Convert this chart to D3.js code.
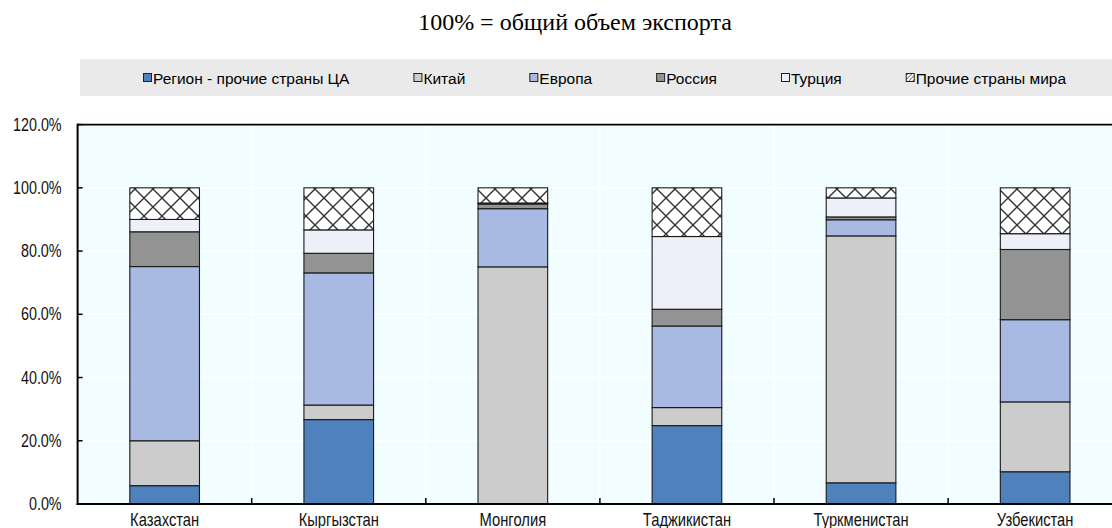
<!DOCTYPE html>
<html>
<head>
<meta charset="utf-8">
<script src="https://cdn.jsdelivr.net/npm/d3@7"></script>
<style>
  html, body { margin: 0; padding: 0; background: #ffffff; }
  svg { display: block; }
</style>
</head>
<body>
<svg id="chart" width="1112" height="528"></svg>
<script>
// ---- data ----
const title = "100% = общий объем экспорта";
const categories = ["Казахстан", "Кыргызстан", "Монголия", "Таджикистан", "Туркменистан", "Узбекистан"];
const seriesNames = ["Регион - прочие страны ЦА", "Китай", "Европа", "Россия", "Турция", "Прочие страны мира"];
const regionCA = [5.8, 26.7, 0.0, 24.8, 6.7, 10.2];
const china    = [14.2, 4.6, 75.0, 5.7, 78.1, 22.1];
const europe   = [55.1, 41.8, 18.4, 25.8, 5.1, 26.0];
const russia   = [11.0, 6.2, 1.5, 5.3, 0.9, 22.2];
const turkey   = [3.9, 7.4, 0.3, 23.0, 6.0, 5.0];
const other    = [10.0, 13.3, 4.8, 15.4, 3.2, 14.5];
const yTicks = [0, 20, 40, 60, 80, 100, 120];

// ---- styles ----
const fills = ["#4f81bd", "#cccccc", "#a8b9e2", "#939393", "#edf0f8", "url(#hatch)"];
const sansFont = "'Liberation Sans', Arial, sans-serif";
const squeeze = 0.82; // condensed look for axis labels

const svg = d3.select("#chart");
const defs = svg.append("defs");
const pat = defs.append("pattern")
  .attr("id", "hatch").attr("patternUnits", "userSpaceOnUse")
  .attr("width", 18).attr("height", 18);
pat.append("rect").attr("width", 18).attr("height", 18).attr("fill", "#ffffff");
pat.append("path").attr("d", "M0,0L18,18M18,0L0,18M-9,9L9,27M9,-9L27,9M9,-9L-9,9M27,9L9,27")
  .attr("stroke", "#333").attr("stroke-width", 1.4).attr("fill", "none");

const legPat = defs.append("pattern")
  .attr("id", "hatchSmall").attr("patternUnits", "userSpaceOnUse")
  .attr("width", 4).attr("height", 4);
legPat.append("rect").attr("width", 4).attr("height", 4).attr("fill", "#fff");
legPat.append("path").attr("d", "M0,4L4,0").attr("stroke", "#444").attr("stroke-width", 1);

// ---- layout ----
const plotLeft = 77.6, band = 174.1, plotTop = 124.6, plotBottom = 504;
const plotRight = plotLeft + band * categories.length;

const x = d3.scaleBand().domain(categories).range([plotLeft, plotRight]).paddingInner(0.6).paddingOuter(0.3);
const y = d3.scaleLinear().domain([0, 120]).range([plotBottom, plotTop]);

// title
svg.append("text").attr("x", 575).attr("y", 30).attr("text-anchor", "middle")
  .attr("font-family", "'Liberation Serif', 'Times New Roman', serif").attr("font-size", 24)
  .attr("fill", "#000").text(title);

// legend box
svg.append("rect").attr("x", 80).attr("y", 59).attr("width", plotRight - 80).attr("height", 37)
  .attr("fill", "#eaeaea");

const legG = svg.append("g");
let lx = 143;
seriesNames.forEach((name, i) => {
  const g = legG.append("g").attr("transform", `translate(${lx},0)`);
  g.append("rect").attr("x", 0.5).attr("y", 73.5).attr("width", 8).attr("height", 8)
    .attr("fill", i === 5 ? "url(#hatchSmall)" : fills[i]).attr("stroke", "#222").attr("stroke-width", 1);
  const t = g.append("text").attr("x", 10).attr("y", 83.5)
    .attr("font-family", sansFont).attr("font-size", 15.5).attr("fill", "#000").text(name);
  const w = t.node().getComputedTextLength();
  lx += 10 + w + 64;
});

// plot background
svg.append("rect").attr("x", plotLeft).attr("y", plotTop).attr("width", plotRight - plotLeft)
  .attr("height", plotBottom - plotTop).attr("fill", "#f2fdff");

const boundary = d => x(d) - (x.step() - x.bandwidth()) / 2;

// gridlines
svg.append("g").selectAll("line").data(yTicks.slice(1)).join("line")
  .attr("x1", plotLeft).attr("x2", plotRight)
  .attr("y1", d => y(d)).attr("y2", d => y(d))
  .attr("stroke", "#ffffff").attr("stroke-width", 1.5);
svg.append("g").selectAll("line").data(categories.slice(1)).join("line")
  .attr("x1", boundary).attr("x2", boundary)
  .attr("y1", plotTop).attr("y2", plotBottom)
  .attr("stroke", "#ffffff").attr("stroke-width", 1.5);

// stacked data
const rows = categories.map((c, i) => ({
  cat: c, s0: regionCA[i], s1: china[i], s2: europe[i], s3: russia[i], s4: turkey[i], s5: other[i]
}));
const keys = ["s0", "s1", "s2", "s3", "s4", "s5"];
const stacked = d3.stack().keys(keys)(rows);

const barsG = svg.append("g");
stacked.forEach((layer, li) => {
  barsG.append("g").selectAll("rect").data(layer).join("rect")
    .attr("x", d => x(d.data.cat))
    .attr("width", x.bandwidth())
    .attr("y", d => y(d[1]))
    .attr("height", d => Math.max(0, y(d[0]) - y(d[1])))
    .attr("fill", fills[li])
    .attr("stroke", "#1a1a1a").attr("stroke-width", 1.1)
    .attr("display", d => (d[1] - d[0]) > 0 ? null : "none");
});

// y axis
const yAxis = d3.axisLeft(y).tickValues(yTicks).tickSize(0).tickPadding(15)
  .tickFormat(d => d3.format(".1f")(d) + "%");
const yg = svg.append("g").attr("transform", `translate(${plotLeft},0)`).call(yAxis);
yg.select(".domain").remove();
yg.selectAll("text").attr("font-family", sansFont).attr("font-size", 17.5).attr("fill", "#111")
  .attr("x", -16 / squeeze).attr("transform", `scale(${squeeze},1)`);
// inward tick marks
svg.append("g").selectAll("line").data(yTicks).join("line")
  .attr("x1", plotLeft).attr("x2", plotLeft + 5)
  .attr("y1", d => y(d)).attr("y2", d => y(d))
  .attr("stroke", "#000").attr("stroke-width", 1.5);

// x axis
const xAxis = d3.axisBottom(x).tickSize(0).tickPadding(9);
const xg = svg.append("g").attr("transform", `translate(0,${plotBottom})`).call(xAxis);
xg.select(".domain").remove();
xg.selectAll("text").attr("font-family", sansFont).attr("font-size", 18).attr("fill", "#111")
  .attr("transform", `scale(${squeeze},1)`);
// category boundary ticks (inward)
svg.append("g").selectAll("line").data(categories.slice(1)).join("line")
  .attr("x1", boundary).attr("x2", boundary)
  .attr("y1", plotBottom).attr("y2", plotBottom - 6)
  .attr("stroke", "#000").attr("stroke-width", 1.5);

// frame
svg.append("line").attr("x1", plotLeft).attr("x2", plotRight).attr("y1", plotTop).attr("y2", plotTop)
  .attr("stroke", "#000").attr("stroke-width", 1.6);
svg.append("line").attr("x1", plotLeft).attr("x2", plotLeft).attr("y1", plotTop - 0.8).attr("y2", plotBottom + 1)
  .attr("stroke", "#000").attr("stroke-width", 2);
svg.append("line").attr("x1", plotLeft - 1).attr("x2", plotRight).attr("y1", plotBottom).attr("y2", plotBottom)
  .attr("stroke", "#000").attr("stroke-width", 2);
</script>
</body>
</html>
